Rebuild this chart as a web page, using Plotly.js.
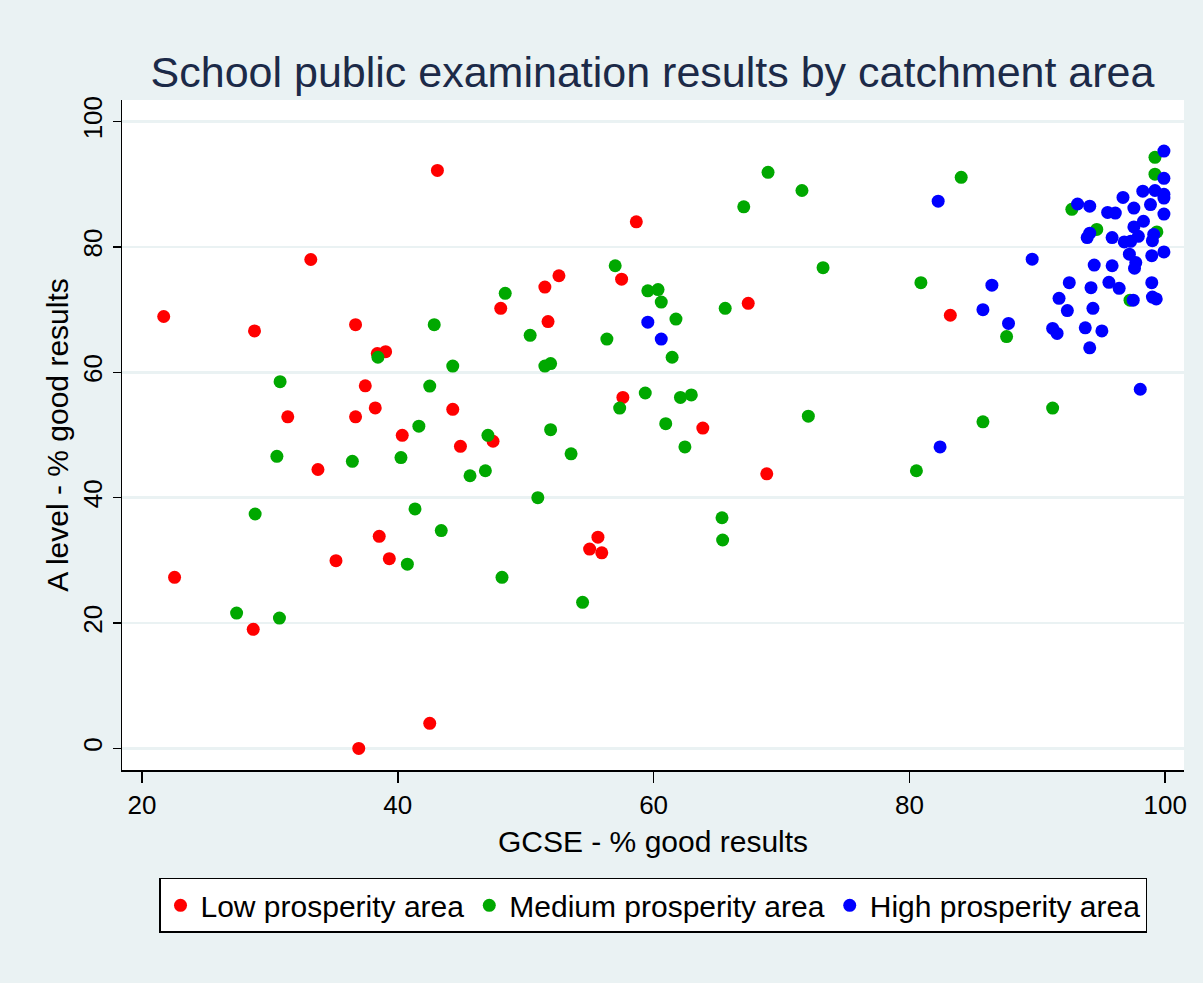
<!DOCTYPE html>
<html>
<head>
<meta charset="utf-8">
<script src="https://cdn.plot.ly/plotly-3.0.1.min.js"></script>
<style>html,body{margin:0;padding:0;background:#eaf2f3;}#chart{width:1203px;height:983px;}</style>
</head>
<body>
<div id="chart"></div>
<script>
// Low prosperity area
const lowX = [21.7,22.55,28.8,28.7,31.4,33.2,33.76,35.17,36.7,36.7,36.95,37.46,38.24,38.55,39.05,38.4,39.34,40.35,42.5,43.1,44.3,44.9,47.45,48.05,51.5,51.75,52.6,55.0,55.65,55.95,57.5,57.6,58.65,63.85,67.4,68.85,83.2];
const lowY = [68.9,27.3,66.6,19.0,52.9,78.0,44.5,29.95,67.6,52.9,0,57.84,54.32,33.84,63.3,63.0,30.27,49.95,4.0,92.2,54.1,48.2,49.0,70.2,73.6,68.1,75.4,31.8,33.7,31.2,74.85,56.0,84.0,51.1,71.0,43.8,69.1];

// Medium prosperity area
const medX = [27.4,28.85,30.55,30.75,30.8,36.45,38.45,40.25,40.75,41.35,41.65,42.5,42.85,43.4,44.3,45.65,46.85,47.05,48.15,48.4,50.35,50.95,51.5,51.95,51.95,53.55,54.45,56.35,57.0,57.35,59.35,59.55,60.35,60.6,60.95,61.45,61.75,62.1,62.45,62.95,65.35,65.4,65.6,67.05,68.95,71.6,72.1,73.25,80.55,80.9,84.05,85.75,87.6,91.2,92.7,94.65,97.25,99.2,99.2,99.35];
const medY = [21.6,37.4,46.6,20.8,58.5,45.8,62.4,46.4,29.4,38.2,51.4,57.8,67.6,34.75,61.0,43.5,44.3,49.95,27.3,72.6,65.9,40.0,61.0,61.4,50.85,47.0,23.3,65.3,77.0,54.3,56.7,73.0,73.2,71.2,51.8,62.4,68.5,56.0,48.1,56.4,36.8,33.25,70.2,86.4,91.9,89.0,53.0,76.7,44.3,74.3,91.1,52.1,65.7,54.3,86.0,82.8,71.5,94.3,91.6,82.4];

// High prosperity area
const highX = [59.55,60.6,82.25,82.4,85.75,86.45,87.75,89.6,98.05,99.9,99.9,98.25,99.2,99.9,99.9,96.7,98.85,97.55,93.15,94.1,95.5,96.1,99.9,98.3,97.55,94.1,93.9,97.9,95.85,99.1,99.0,96.8,97.3,99.9,97.2,98.95,97.7,97.6,94.45,95.85,92.5,94.2,95.6,96.4,98.95,91.7,97.5,99.0,99.3,92.35,94.35,91.2,91.55,93.75,95.05,94.1];
const highY = [68.0,65.3,87.3,48.1,70.0,73.9,67.8,78.05,57.3,95.3,90.95,88.9,89.0,88.4,87.8,87.9,86.75,86.2,86.85,86.5,85.5,85.4,85.25,84.1,83.2,82.2,81.5,81.7,81.5,82.0,81.0,80.8,80.9,79.2,78.85,78.6,77.5,76.6,77.1,77.0,74.3,73.5,74.35,73.4,74.3,71.8,71.5,72.0,71.7,69.85,70.2,67.0,66.2,67.1,66.6,63.9];

const seriesNames = ["Low prosperity area","Medium prosperity area","High prosperity area"];
const seriesColors = ["#ff0000","#00a800","#0000ff"];
const xTickVals = [20,40,60,80,100];
const yTickVals = [0,20,40,60,80,100];

const FONT = '"Liberation Sans", Arial, sans-serif';

const mk = (x, y, i) => ({
  type: 'scatter', mode: 'markers', x: x, y: y, name: seriesNames[i],
  marker: {color: seriesColors[i], size: 13, line: {width: 0}},
  hoverinfo: 'x+y'
});

const data = [mk(lowX, lowY, 0), mk(medX, medY, 1), mk(highX, highY, 2)];

const layout = {
  width: 1203, height: 983,
  paper_bgcolor: '#eaf2f3', plot_bgcolor: '#ffffff',
  margin: {l: 122, r: 19, t: 100, b: 213, pad: 0},
  font: {family: FONT, color: '#000000', size: 26},
  title: {text: 'School public examination results by catchment area',
          font: {family: FONT, size: 43, color: '#1c2a48'},
          x: 0.5424, xanchor: 'center', y: 0.927, yanchor: 'middle'},
  xaxis: {range: [18.44, 101.47], tickvals: xTickVals, ticks: 'outside', ticklen: 11,
          tickcolor: '#000', tickwidth: 1.5, showline: true, linecolor: '#000', linewidth: 1.5,
          showgrid: false, zeroline: false, tickfont: {size: 26},
          title: {text: 'GCSE - % good results', font: {size: 30}, standoff: 12}},
  yaxis: {range: [-3.44, 103.44], tickvals: yTickVals, ticks: 'outside', ticklen: 8,
          tickcolor: '#000', tickwidth: 1.5, showline: true, linecolor: '#000', linewidth: 1.5,
          showgrid: true, gridcolor: '#eaf2f3', gridwidth: 2.5, zeroline: false,
          tickangle: -90, tickfont: {size: 26},
          title: {text: 'A level - % good results', font: {size: 30}, standoff: 0}},
  showlegend: true,
  legend: {orientation: 'h', x: 0.5, xanchor: 'center', y: -0.161, yanchor: 'top',
           bgcolor: '#ffffff', bordercolor: '#000000', borderwidth: 1.5,
           font: {size: 30}, itemwidth: 30}
};

Plotly.newPlot('chart', data, layout, {displayModeBar: false, staticPlot: true});
</script>
</body>
</html>
